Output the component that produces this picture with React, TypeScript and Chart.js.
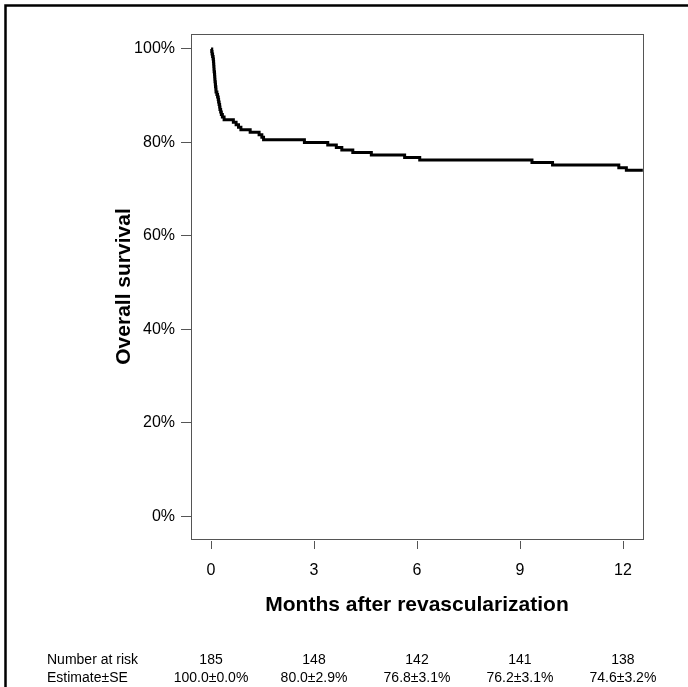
import React, { useEffect, useRef } from "react";
import { Chart, registerables } from "chart.js";

Chart.register(...registerables);

// Kaplan–Meier step points: time (months) and survival (%) after each event
const eventMonths = [
  0, 0.02, 0.03, 0.045, 0.06, 0.07, 0.075, 0.08, 0.085, 0.09, 0.1, 0.105, 0.11, 0.115,
  0.125, 0.13, 0.14, 0.145, 0.17, 0.19, 0.21, 0.22, 0.235, 0.25, 0.26, 0.28, 0.3, 0.33, 0.38,
  0.65, 0.73, 0.8, 0.87, 1.14, 1.4, 1.48, 1.53, 2.72, 3.4, 3.65, 3.81, 4.13, 4.67, 5.64,
  6.08, 9.35, 9.95, 11.88, 12.1, 12.58,
];
const survivalPct = [
  100, 99.46, 98.92, 98.38, 97.84, 97.3, 96.76, 96.22, 95.68, 95.14, 94.59, 94.05, 93.51, 92.97,
  92.43, 91.89, 91.35, 90.81, 90.27, 89.73, 89.19, 88.65, 88.11, 87.57, 87.03, 86.49, 85.95, 85.41, 84.86,
  84.32, 83.78, 83.24, 82.7, 82.16, 81.62, 81.08, 80.54, 80.0, 79.46, 78.92, 78.38, 77.84, 77.3, 76.76,
  76.22, 75.68, 75.14, 74.59, 74.05, 74.05,
];

const xTickValues = [0, 3, 6, 9, 12];
const yTickValues = [0, 20, 40, 60, 80, 100];
const riskMonths = [0, 3, 6, 9, 12];
const numberAtRisk = ["185", "148", "142", "141", "138"];
const estimateSE = ["100.0±0.0%", "80.0±2.9%", "76.8±3.1%", "76.2±3.1%", "74.6±3.2%"];

const FONT = "'Liberation Sans', Arial, Helvetica, sans-serif";

const decorPlugin = {
  id: "decor",
  afterDraw(chart: any) {
    const ctx = chart.ctx as CanvasRenderingContext2D;
    const area = chart.chartArea;
    const xs = chart.scales.x;
    ctx.save();
    // plot box
    ctx.strokeStyle = "#555";
    ctx.lineWidth = 1;
    ctx.strokeRect(
      Math.round(area.left) + 0.5,
      Math.round(area.top) + 0.5,
      Math.round(area.right - area.left),
      Math.round(area.bottom - area.top)
    );
    // x tick marks (detached from box)
    ctx.beginPath();
    for (const v of xTickValues) {
      const px = Math.round(xs.getPixelForValue(v)) + 0.5;
      ctx.moveTo(px, area.bottom + 2);
      ctx.lineTo(px, area.bottom + 10);
    }
    ctx.stroke();
    // risk table
    ctx.fillStyle = "#000";
    ctx.font = `14px ${FONT}`;
    ctx.textBaseline = "middle";
    ctx.textAlign = "left";
    ctx.fillText("Number at risk", 47, 660);
    ctx.fillText("Estimate±SE", 47, 678);
    ctx.textAlign = "center";
    riskMonths.forEach((m, i) => {
      const px = xs.getPixelForValue(m);
      ctx.fillText(numberAtRisk[i], px, 660);
      ctx.fillText(estimateSE[i], px, 678);
    });
    // outer frame
    ctx.strokeStyle = "#000";
    ctx.lineWidth = 2.5;
    ctx.beginPath();
    ctx.moveTo(5.5, 700);
    ctx.lineTo(5.5, 5.5);
    ctx.lineTo(700, 5.5);
    ctx.stroke();
    ctx.restore();
  },
};

export default function App() {
  const ref = useRef<HTMLCanvasElement | null>(null);
  useEffect(() => {
    if (!ref.current) return;
    const data = eventMonths.map((t, i) => ({ x: t, y: survivalPct[i] }));
    const chart = new Chart(ref.current, {
      type: "line",
      data: {
        datasets: [
          {
            data,
            borderColor: "#000",
            borderWidth: 3,
            pointRadius: 0,
            stepped: true,
            fill: false,
          },
        ],
      },
      options: {
        animation: false,
        responsive: false,
        maintainAspectRatio: false,
        events: [],
        layout: { padding: { left: 0, right: 45, top: 34, bottom: 0 } },
        plugins: { legend: { display: false }, tooltip: { enabled: false } },
        scales: {
          x: {
            type: "linear",
            min: -0.584,
            max: 12.585,
            afterBuildTicks: (s: any) => {
              s.ticks = xTickValues.map((v) => ({ value: v }));
            },
            afterFit: (s: any) => {
              s.height = 148;
            },
            grid: { display: false, drawTicks: false },
            border: { display: false },
            ticks: {
              color: "#000",
              font: { family: FONT, size: 16 },
              padding: 22,
              maxRotation: 0,
              autoSkip: false,
            },
            title: {
              display: true,
              text: "Months after revascularization",
              color: "#000",
              font: { family: FONT, size: 21, weight: "bold" },
              padding: { top: 0, bottom: 69 },
            },
          },
          y: {
            type: "linear",
            min: -4.9,
            max: 103.2,
            afterBuildTicks: (s: any) => {
              s.ticks = yTickValues.map((v) => ({ value: v }));
            },
            afterFit: (s: any) => {
              s.width = 191;
            },
            grid: { drawOnChartArea: false, drawTicks: true, tickLength: 10, color: "#555" },
            border: { display: true, color: "#555" },
            ticks: {
              color: "#000",
              font: { family: FONT, size: 16 },
              padding: 6,
              callback: (v: any) => `${v}%`,
            },
            title: {
              display: true,
              text: "Overall survival",
              color: "#000",
              font: { family: FONT, size: 21, weight: "bold" },
              padding: { top: 112, bottom: 0 },
            },
          },
        },
      },
      plugins: [decorPlugin],
    });
    return () => chart.destroy();
  }, []);
  return (
    <div style={{ position: "absolute", left: 0, top: 0, width: 688, height: 687 }}>
      <canvas ref={ref} width={688} height={687} style={{ display: "block" }} />
    </div>
  );
}
